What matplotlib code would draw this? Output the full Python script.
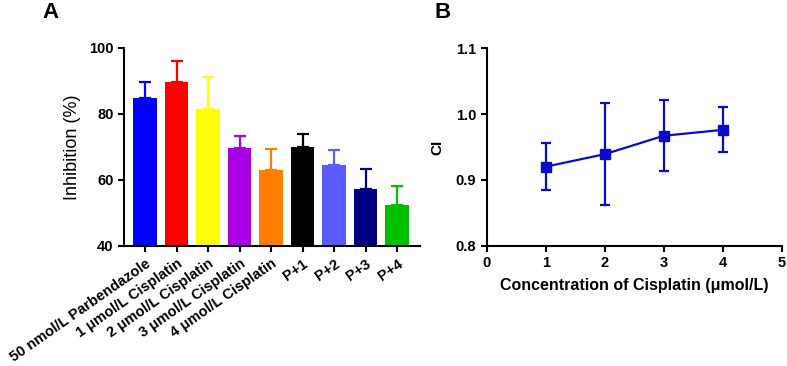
import matplotlib.pyplot as plt
import numpy as np

plt.rcParams['font.family'] = ['Liberation Sans', 'DejaVu Sans']

# Panel A data
groups = ['50 nmol/L Parbendazole', '1 μmol/L Cisplatin', '2 μmol/L Cisplatin',
          '3 μmol/L Cisplatin', '4 μmol/L Cisplatin', 'P+1', 'P+2', 'P+3', 'P+4']
inhibition = [84.9, 89.8, 81.4, 69.8, 63.1, 70.0, 64.6, 57.4, 52.4]
inhibition_err = [4.9, 6.2, 9.8, 3.6, 6.4, 3.8, 4.5, 5.8, 5.7]
bar_colors = ['#0000FF', '#FF0000', '#FFFF00', '#AA00E6', '#FF8000',
              '#000000', '#5B5BFF', '#000080', '#00C000']

# Panel B data
conc = [1, 2, 3, 4]
ci = [0.920, 0.939, 0.967, 0.976]
ci_err = [0.036, 0.078, 0.054, 0.034]

fig = plt.figure(figsize=(7.87, 3.66), dpi=100)
fig.patch.set_facecolor('white')

# ---- Panel A ----
axA = fig.add_axes([0.1576, 0.328, 0.3761, 0.541])
x = np.arange(len(groups))
axA.bar(x, inhibition, width=0.74, color=bar_colors, zorder=2)
for xi, v, e, c in zip(x, inhibition, inhibition_err, bar_colors):
    axA.errorbar(xi, v, yerr=[[0], [e]], color=c, capsize=4.5, elinewidth=1.6,
                 capthick=1.6, zorder=1)
axA.set_ylim(40, 100)
axA.set_xlim(-0.67, 8.73)
axA.set_yticks([40, 60, 80, 100])
axA.set_xticks(x)
axA.set_xticklabels(groups, rotation=35, ha='right', rotation_mode='anchor',
                    fontsize=10.5, fontweight='bold')
for lab in axA.get_yticklabels():
    lab.set_fontweight('bold')
    lab.set_fontsize(10.5)
axA.set_ylabel('Inhibition (%)', fontsize=13, labelpad=6)
axA.spines['top'].set_visible(False)
axA.spines['right'].set_visible(False)
for s in ['left', 'bottom']:
    axA.spines[s].set_linewidth(1.5)
axA.tick_params(width=1.5, length=4)

# ---- Panel B ----
axB = fig.add_axes([0.6184, 0.329, 0.3749, 0.539])
axB.errorbar(conc, ci, yerr=ci_err, color='#0A0ACC', marker='s', markersize=7,
             linewidth=1.6, capsize=3.8, elinewidth=1.6, capthick=1.6)
axB.set_xlim(0, 5)
axB.set_ylim(0.8, 1.1)
axB.set_xticks([0, 1, 2, 3, 4, 5])
axB.set_yticks([0.8, 0.9, 1.0, 1.1])
axB.set_yticklabels(['0.8', '0.9', '1.0', '1.1'])
for lab in axB.get_xticklabels() + axB.get_yticklabels():
    lab.set_fontweight('bold')
    lab.set_fontsize(10.5)
axB.set_xlabel('Concentration of Cisplatin (μmol/L)', fontsize=11.5,
               fontweight='bold', labelpad=6)
axB.set_ylabel('CI', fontsize=11, fontweight='bold', labelpad=8)
axB.spines['top'].set_visible(False)
axB.spines['right'].set_visible(False)
for s in ['left', 'bottom']:
    axB.spines[s].set_linewidth(1.5)
axB.tick_params(width=1.5, length=4)

fig.text(0.064, 0.965, 'A', fontsize=16, fontweight='bold', va='center', ha='center')
fig.text(0.562, 0.965, 'B', fontsize=16, fontweight='bold', va='center', ha='center')

fig.savefig('out.png', dpi=100)
